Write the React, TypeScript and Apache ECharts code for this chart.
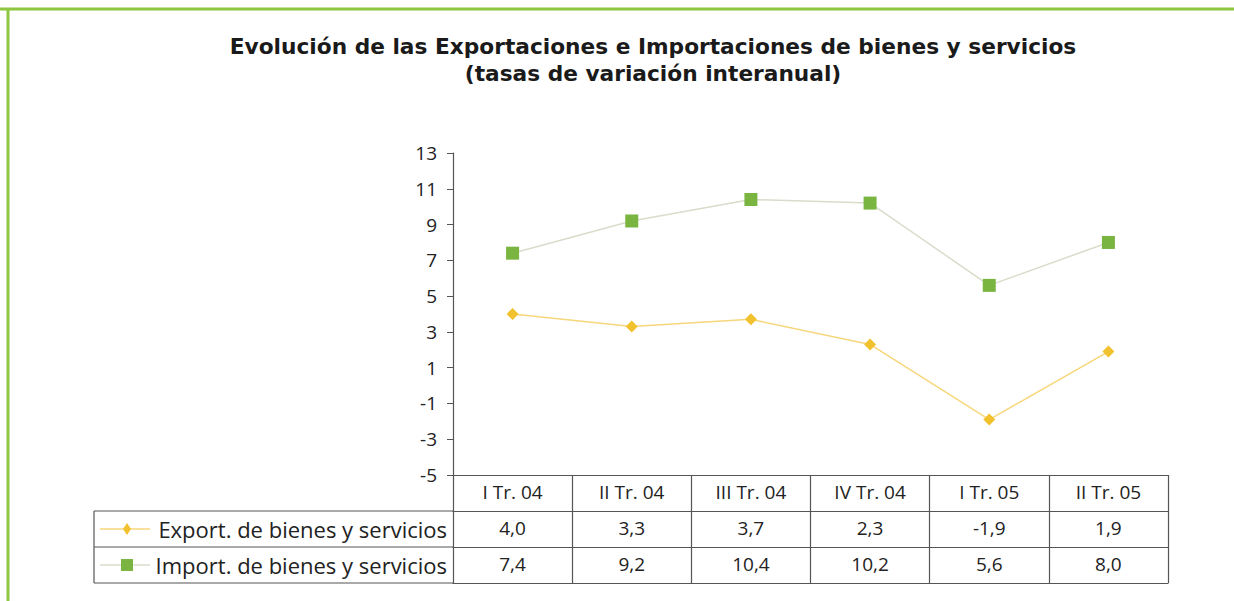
import React, { useEffect, useRef } from "react";
import * as echarts from "echarts";

const categories = ["I Tr. 04", "II Tr. 04", "III Tr. 04", "IV Tr. 04", "I Tr. 05", "II Tr. 05"];
const exportName = "Export. de bienes y servicios";
const importName = "Import. de bienes y servicios";
const exportValues = [4.0, 3.3, 3.7, 2.3, -1.9, 1.9];
const importValues = [7.4, 9.2, 10.4, 10.2, 5.6, 8.0];
const titleLine1 = "Evolución de las Exportaciones e Importaciones de bienes y servicios";
const titleLine2 = "(tasas de variación interanual)";

const fmt = (v: number) => v.toFixed(1).replace(".", ",");

const FONT = "'Open Sans', Lato, sans-serif";
const TITLE_FONT = "'DejaVu Sans', 'Open Sans', sans-serif";
const GRID_LEFT = 453;
const GRID_RIGHT_X = 1168;
const GRID_TOP = 153;
const AXIS_Y = 475;
const ROW_H = 36;
const TABLE_LEFT = 94;
const EXPORT_LINE = "#F7D77C";
const EXPORT_MARK = "#F2C12E";
const IMPORT_LINE = "#D9DCCB";
const IMPORT_MARK = "#79B540";
const FRAME = "#8DC63F";
const AX = "#555";

export default function App() {
  const ref = useRef<HTMLDivElement>(null);
  useEffect(() => {
    document.body.style.margin = "0";
    const chart = echarts.init(ref.current!, null, { renderer: "svg" });
    const row1 = AXIS_Y + ROW_H;
    const row2 = AXIS_Y + 2 * ROW_H;
    const row3 = AXIS_Y + 3 * ROW_H;
    const baseAxis = {
      type: "category" as const,
      gridIndex: 0,
      position: "bottom" as const,
      boundaryGap: true,
      axisLine: { show: true, onZero: false, lineStyle: { color: AX, width: 1.2 } },
      axisTick: { show: true, interval: 0, length: ROW_H, lineStyle: { color: AX, width: 1.2 } },
      axisLabel: { interval: 0, fontSize: 19, color: "#222", fontFamily: FONT, margin: 7 },
      splitLine: { show: false },
    };
    const titleStyle = {
      fontSize: 21.7,
      fontWeight: "bold",
      fontFamily: TITLE_FONT,
      fill: "#1a1a1a",
      align: "center",
      verticalAlign: "middle",
    };
    chart.setOption({
      animation: false,
      backgroundColor: "#fff",
      grid: { left: GRID_LEFT, right: 1234 - GRID_RIGHT_X, top: GRID_TOP, bottom: 601 - AXIS_Y },
      xAxis: [
        { ...baseAxis, data: categories },
        { ...baseAxis, data: exportValues.map(fmt), offset: ROW_H },
        { ...baseAxis, data: importValues.map(fmt), offset: 2 * ROW_H },
        { ...baseAxis, data: categories, offset: 3 * ROW_H, axisTick: { show: false }, axisLabel: { show: false } },
      ],
      yAxis: {
        type: "value",
        min: -5,
        max: 13,
        interval: 2,
        axisLine: { show: true, lineStyle: { color: AX, width: 1.2 } },
        axisTick: { show: true, length: 6, lineStyle: { color: AX } },
        axisLabel: { fontSize: 19, color: "#222", fontFamily: FONT, margin: 16 },
        splitLine: { show: false },
      },
      series: [
        {
          name: exportName,
          type: "line",
          data: exportValues,
          symbol: "diamond",
          symbolSize: 12,
          lineStyle: { color: EXPORT_LINE, width: 1.5 },
          itemStyle: { color: EXPORT_MARK },
        },
        {
          name: importName,
          type: "line",
          data: importValues,
          symbol: "rect",
          symbolSize: 13,
          lineStyle: { color: IMPORT_LINE, width: 1.5 },
          itemStyle: { color: IMPORT_MARK },
        },
      ],
      graphic: [
        { type: "line", shape: { x1: 0, y1: 9, x2: 1234, y2: 9 }, style: { stroke: FRAME, lineWidth: 3 } },
        { type: "line", shape: { x1: 8, y1: 8, x2: 8, y2: 601 }, style: { stroke: FRAME, lineWidth: 3 } },
        { type: "text", x: 653, y: 46, style: { ...titleStyle, text: titleLine1 } },
        { type: "text", x: 653, y: 73, style: { ...titleStyle, text: titleLine2 } },
        { type: "line", shape: { x1: TABLE_LEFT, y1: row1, x2: GRID_LEFT, y2: row1 }, style: { stroke: AX, lineWidth: 1.2 } },
        { type: "line", shape: { x1: TABLE_LEFT, y1: row2, x2: GRID_LEFT, y2: row2 }, style: { stroke: AX, lineWidth: 1.2 } },
        { type: "line", shape: { x1: TABLE_LEFT, y1: row3, x2: GRID_LEFT, y2: row3 }, style: { stroke: AX, lineWidth: 1.2 } },
        { type: "line", shape: { x1: TABLE_LEFT, y1: row1, x2: TABLE_LEFT, y2: row3 }, style: { stroke: AX, lineWidth: 1.2 } },
        { type: "line", shape: { x1: 100, y1: row1 + ROW_H / 2, x2: 150, y2: row1 + ROW_H / 2 }, style: { stroke: EXPORT_LINE, lineWidth: 1.5 } },
        {
          type: "polygon",
          shape: { points: [[127, row1 + ROW_H / 2 - 6], [131, row1 + ROW_H / 2], [127, row1 + ROW_H / 2 + 6], [123, row1 + ROW_H / 2]] },
          style: { fill: EXPORT_MARK },
        },
        { type: "line", shape: { x1: 100, y1: row2 + ROW_H / 2, x2: 150, y2: row2 + ROW_H / 2 }, style: { stroke: IMPORT_LINE, lineWidth: 1.5 } },
        { type: "rect", shape: { x: 121, y: row2 + ROW_H / 2 - 6, width: 12, height: 12 }, style: { fill: IMPORT_MARK } },
        {
          type: "text",
          x: 447,
          y: row1 + ROW_H / 2,
          style: { text: exportName, fontSize: 22, fontFamily: FONT, fill: "#222", align: "right", verticalAlign: "middle" },
        },
        {
          type: "text",
          x: 447,
          y: row2 + ROW_H / 2,
          style: { text: importName, fontSize: 22, fontFamily: FONT, fill: "#222", align: "right", verticalAlign: "middle" },
        },
      ],
    });
    return () => chart.dispose();
  }, []);
  return <div ref={ref} style={{ width: 1234, height: 601 }} />;
}
